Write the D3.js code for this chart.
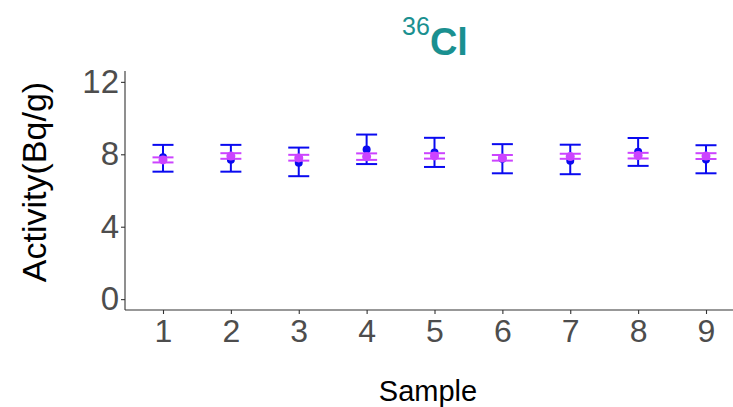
<!DOCTYPE html>
<html><head><meta charset="utf-8">
<script src="https://cdn.jsdelivr.net/npm/d3@7"></script>
<style>body{margin:0;background:#fff}svg{display:block}text{font-family:"Liberation Sans",Arial,sans-serif}</style>
</head><body>
<svg id="c" width="733" height="407"></svg>
<script>
const samples = [1,2,3,4,5,6,7,8,9];
const blueMean = [7.83, 7.70, 7.53, 8.27, 8.10, 7.75, 7.64, 8.14, 7.71];
const blueLow  = [7.04, 7.04, 6.79, 7.46, 7.30, 6.95, 6.90, 7.36, 6.95];
const blueHigh = [8.52, 8.52, 8.37, 9.09, 8.91, 8.56, 8.53, 8.90, 8.50];
const magMean  = [7.69, 7.90, 7.80, 7.87, 7.91, 7.80, 7.88, 7.93, 7.90];
const magLow   = [7.55, 7.75, 7.65, 7.69, 7.76, 7.65, 7.75, 7.77, 7.74];
const magHigh  = [7.83, 8.06, 7.97, 8.05, 8.06, 7.96, 8.03, 8.08, 8.06];
const yTicks = [0,4,8,12];

const svg = d3.select("#c");
const x = d3.scaleLinear().domain([1,9]).range([163,706]);
const y = d3.scaleLinear().domain([-0.6,12.6]).range([310,71]);
const pLeft = 125, pBottom = 310, pRight = 733, pTop = 71;

// axes
const gy = svg.append("g").attr("transform",`translate(${pLeft},0)`)
  .call(d3.axisLeft(y).tickValues(yTicks).tickSize(4).tickPadding(2));
gy.select(".domain").remove();
gy.selectAll(".tick line").attr("stroke","#333").attr("stroke-width",1.1);
gy.selectAll(".tick text").attr("fill","#4d4d4d").style("font-size","33px");
svg.append("line").attr("x1",pLeft).attr("x2",pLeft).attr("y1",pTop).attr("y2",pBottom).attr("stroke","#333").attr("stroke-width",1.1);

const gx = svg.append("g").attr("transform",`translate(0,${pBottom})`)
  .call(d3.axisBottom(x).tickValues(samples).tickFormat(d3.format("d")).tickSize(4).tickPadding(5));
gx.select(".domain").remove();
gx.selectAll(".tick line").attr("stroke","#333").attr("stroke-width",1.1);
gx.selectAll(".tick text").attr("fill","#4d4d4d").style("font-size","32px");
svg.append("line").attr("x1",pLeft).attr("x2",pRight).attr("y1",pBottom).attr("y2",pBottom).attr("stroke","#333").attr("stroke-width",1.1);

function errorbars(mean, low, high, color, r, capW){
  const g = svg.append("g");
  samples.forEach((s,i)=>{
    const cx = x(s);
    g.append("line").attr("x1",cx).attr("x2",cx).attr("y1",y(low[i])).attr("y2",y(high[i])).attr("stroke",color).attr("stroke-width",2);
    g.append("line").attr("x1",cx-capW/2).attr("x2",cx+capW/2).attr("y1",y(low[i])).attr("y2",y(low[i])).attr("stroke",color).attr("stroke-width",2);
    g.append("line").attr("x1",cx-capW/2).attr("x2",cx+capW/2).attr("y1",y(high[i])).attr("y2",y(high[i])).attr("stroke",color).attr("stroke-width",2);
  });
  g.selectAll("circle").data(samples).join("circle")
    .attr("cx",d=>x(d)).attr("cy",(d,i)=>y(mean[i])).attr("r",r).attr("fill",color);
}
errorbars(blueMean, blueLow, blueHigh, "#0a0af0", 4, 21);
errorbars(magMean, magLow, magHigh, "#cc44ff", 4.5, 21);

// titles
const t = svg.append("text").attr("x",435).attr("y",55).attr("text-anchor","middle").attr("fill","#1a9090");
t.append("tspan").text("36").style("font-size","25px").attr("dy","-20");
t.append("tspan").text("Cl").style("font-size","38px").style("font-weight","bold").attr("dy","20");

svg.append("text").attr("transform","translate(46,182) rotate(-90)").attr("text-anchor","middle")
  .style("font-size","34px").attr("fill","#000").text("Activity(Bq/g)");
svg.append("text").attr("x",428).attr("y",401).attr("text-anchor","middle")
  .style("font-size","29px").attr("fill","#000").text("Sample");
</script>
</body></html>
